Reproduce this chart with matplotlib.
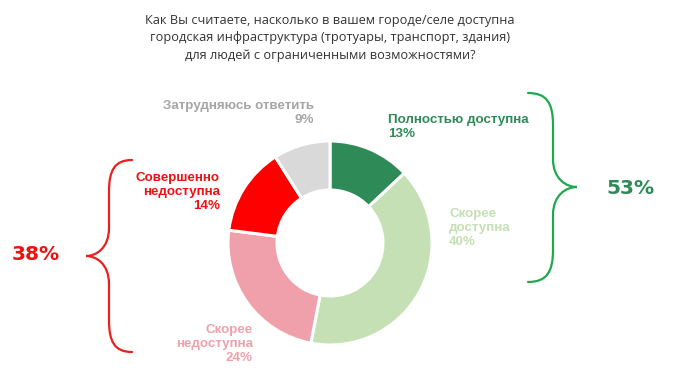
import matplotlib
matplotlib.use("Agg")
import matplotlib.pyplot as plt
from matplotlib.path import Path
from matplotlib.patches import PathPatch

# ---- data ----
categories = ["Полностью доступна", "Скорее доступна", "Скорее недоступна",
              "Совершенно недоступна", "Затрудняюсь ответить"]
values = [13, 40, 24, 14, 9]
colors = ["#2e8b57", "#c5e0b4", "#f0a0ab", "#ff0000", "#d9d9d9"]
label_colors = ["#2e8b57", "#c5e0b4", "#f0a0ab", "#ee1111", "#a6a6a6"]
group_pos = 53
group_neg = 38
title = ("Как Вы считаете, насколько в вашем городе/селе доступна\n"
         "городская инфраструктура (тротуары, транспорт, здания)\n"
         "для людей с ограниченными возможностями?")

W, H = 676, 381
fig = plt.figure(figsize=(W / 100, H / 100), dpi=100)
ax = fig.add_axes([0, 0, 1, 1])

def Y(y):
    return H - y

ax.pie(values, colors=colors, startangle=90, counterclock=False,
       radius=102, center=(330, Y(243)),
       wedgeprops=dict(width=49, edgecolor="white", linewidth=2.2))
ax.set_xlim(0, W)
ax.set_ylim(0, H)
ax.set_aspect("equal")
ax.axis("off")

# title
ax.text(330, Y(38), title, ha="center", va="center", fontsize=9.2,
        family=["Open Sans", "DejaVu Sans"], color="#333333", linespacing=1.42)

lab = dict(fontsize=9.6, fontweight="bold", family=["Liberation Sans", "DejaVu Sans"],
           linespacing=1.25)
ax.text(388, Y(127), f"Полностью доступна\n{values[0]}%", ha="left", va="center",
        color=label_colors[0], **lab)
ax.text(449, Y(228), f"Скорее\nдоступна\n{values[1]}%", ha="left", va="center",
        color=label_colors[1], **lab)
ax.text(253, Y(344), f"Скорее\nнедоступна\n{values[2]}%", ha="right", va="center",
        color=label_colors[2], multialignment="right", **lab)
ax.text(220, Y(192), f"Совершенно\nнедоступна\n{values[3]}%", ha="right", va="center",
        color=label_colors[3], multialignment="right", **lab)
ax.text(314, Y(113), f"Затрудняюсь ответить\n{values[4]}%", ha="right", va="center",
        color=label_colors[4], multialignment="right", **lab)

big = dict(fontsize=14.5, fontweight="bold", family=["DejaVu Sans"],
           ha="center", va="center")
ax.text(631, Y(188), f"{group_pos}%", color="#2e8b57", **big)
ax.text(36, Y(254), f"{group_neg}%", color="#ee1111", **big)

def brace(x_end, x_mid, x_tip, y_top, y_tip, y_bot, color):
    d = x_mid - x_end
    verts = [
        (x_end, Y(y_top)),
        (x_end + 0.75 * d, Y(y_top)), (x_mid, Y(y_top + 10)), (x_mid, Y(y_top + 32)),
        (x_mid, Y(y_tip - 28)),
        (x_mid, Y(y_tip - 8)), (x_tip - 0.45 * (x_tip - x_mid), Y(y_tip)), (x_tip, Y(y_tip)),
        (x_tip - 0.45 * (x_tip - x_mid), Y(y_tip)), (x_mid, Y(y_tip + 8)), (x_mid, Y(y_tip + 28)),
        (x_mid, Y(y_bot - 32)),
        (x_mid, Y(y_bot - 10)), (x_end + 0.75 * d, Y(y_bot)), (x_end, Y(y_bot)),
    ]
    codes = [Path.MOVETO,
             Path.CURVE4, Path.CURVE4, Path.CURVE4,
             Path.LINETO,
             Path.CURVE4, Path.CURVE4, Path.CURVE4,
             Path.CURVE4, Path.CURVE4, Path.CURVE4,
             Path.LINETO,
             Path.CURVE4, Path.CURVE4, Path.CURVE4]
    ax.add_patch(PathPatch(Path(verts, codes), fill=False, edgecolor=color,
                           linewidth=1.6, capstyle="round"))

brace(528, 553, 577, 93, 187, 282, "#1fa84f")
brace(132, 109, 86, 160, 256, 352, "#e8201e")

fig.savefig("out.png", dpi=100)
